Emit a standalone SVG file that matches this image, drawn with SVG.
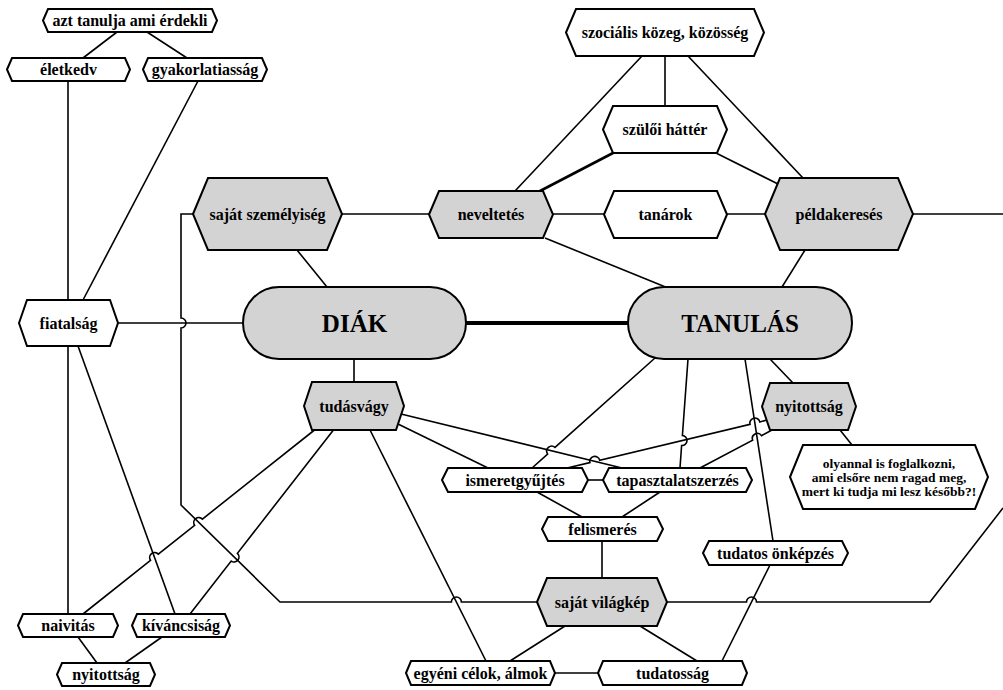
<svg xmlns="http://www.w3.org/2000/svg" width="1003" height="690" viewBox="0 0 1003 690">
<style>
.n{fill:#fff;stroke:#000;stroke-width:2;stroke-linejoin:miter}
.g{fill:#d3d3d3;stroke:#000;stroke-width:2}
.t{font-family:"Liberation Serif","Times New Roman",serif;font-weight:bold;font-size:16px;text-anchor:middle;fill:#000}
.big{font-size:25px}
.sm{font-size:13.5px}
#edges path,#edges line{fill:none;stroke:#000;stroke-width:1.6}
</style>
<rect width="1003" height="690" fill="#fff"/>
<g id="edges">
<line x1="117" y1="32" x2="83" y2="58"/>
<line x1="147" y1="32" x2="187" y2="58"/>
<line x1="68" y1="81" x2="68" y2="300"/>
<line x1="68" y1="346" x2="68" y2="614"/>
<line x1="198" y1="81" x2="83" y2="300"/>
<line x1="118" y1="323" x2="243" y2="323"/>
<path d="M193,214 L181,214 L181,318 A5,5 0 0 1 181,328 L181,505 L280,602 L451.4,602 A5,5 0 0 1 461.4,602 L537,602"/>
<path d="M667,602 L746.5,602 A5,5 0 0 1 756.5,602 L930,602 L1003,508"/>
<line x1="913" y1="214" x2="1003" y2="214"/>
<line x1="466" y1="323" x2="628" y2="323" style="stroke-width:4"/>
<line x1="354" y1="359" x2="354" y2="382"/>
<line x1="297" y1="250" x2="327" y2="287"/>
<line x1="342" y1="214" x2="429" y2="214"/>
<line x1="553" y1="214" x2="604" y2="214"/>
<line x1="727" y1="214" x2="765" y2="214"/>
<line x1="642" y1="56" x2="515" y2="191"/>
<line x1="665" y1="56" x2="665" y2="106"/>
<line x1="688" y1="56" x2="803" y2="178"/>
<line x1="613" y1="153" x2="540" y2="191" style="stroke-width:2.6"/>
<line x1="716" y1="153" x2="778" y2="184"/>
<line x1="545" y1="238" x2="668" y2="288"/>
<line x1="805" y1="250" x2="782" y2="287"/>
<path d="M317,428 L202.4,519.1 A5,5 0 0 0 194.6,525.3 L158.3,554.1 A5,5 0 0 0 150.5,560.3 L83,614"/>
<path d="M335,428 L237.4,553.3 A5,5 0 0 1 231.2,561.1 L190,614"/>
<line x1="78" y1="346" x2="175" y2="614"/>
<line x1="78" y1="637" x2="97" y2="663"/>
<line x1="162" y1="637" x2="125" y2="663"/>
<line x1="370" y1="430" x2="486" y2="661"/>
<line x1="401" y1="414" x2="622" y2="468"/>
<line x1="398" y1="424" x2="488" y2="468"/>
<path d="M655,358 L555,447.4 A5,5 0 0 0 547.6,454 L532,468"/>
<path d="M688,359 L682.4,435.5 A5,5 0 0 1 681.6,445.5 L680,468"/>
<path d="M567,468 L589.9,462.6 A5,5 0 0 1 599.7,460.2 L750,424.3 A5,5 0 0 1 759.8,421.9 L767,420"/>
<path d="M700,468 L752.7,440.2 A5,5 0 0 1 761.5,435.6 L772,430"/>
<line x1="745" y1="359" x2="773" y2="541"/>
<line x1="770" y1="359" x2="793" y2="383"/>
<line x1="840" y1="430" x2="852" y2="445"/>
<line x1="588" y1="480" x2="603" y2="480"/>
<line x1="537" y1="492" x2="582" y2="517"/>
<line x1="660" y1="492" x2="622" y2="517"/>
<line x1="602" y1="541" x2="602" y2="578"/>
<line x1="770" y1="565" x2="722" y2="661"/>
<line x1="565" y1="626" x2="510" y2="661"/>
<line x1="640" y1="626" x2="697" y2="661"/>
<line x1="555" y1="673" x2="598" y2="673"/>
</g>
<g id="azt"><polygon class="n" points="43,20.5 48,9 212,9 217,20.5 212,32 48,32"/><text class="t" x="130" y="26">azt tanulja ami érdekli</text></g>
<g id="eletkedv"><polygon class="n" points="7,69.5 12,58 125,58 130,69.5 125,81 12,81"/><text class="t" x="68.5" y="75">életkedv</text></g>
<g id="gyakorlatiassag"><polygon class="n" points="143,69.5 148,58 262,58 267,69.5 262,81 148,81"/><text class="t" x="205" y="75">gyakorlatiasság</text></g>
<g id="szocialis"><polygon class="n" points="566,32.5 576,9 754,9 764,32.5 754,56 576,56"/><text class="t" x="665" y="38">szociális közeg, közösség</text></g>
<g id="szuloi"><polygon class="n" points="603,129.5 613,106 717,106 727,129.5 717,153 613,153"/><text class="t" x="665" y="135">szülői háttér</text></g>
<g id="sajat-szemelyiseg"><polygon class="g" points="193,214 208,178 327,178 342,214 327,250 208,250"/><text class="t" x="267.5" y="219.5">saját személyiség</text></g>
<g id="neveltetes"><polygon class="g" points="429,214.5 439,191 543,191 553,214.5 543,238 439,238"/><text class="t" x="491" y="220">neveltetés</text></g>
<g id="tanarok"><polygon class="n" points="604,214.5 614,191 717,191 727,214.5 717,238 614,238"/><text class="t" x="665.5" y="220">tanárok</text></g>
<g id="peldakereses"><polygon class="g" points="765,214 780,178 898,178 913,214 898,250 780,250"/><text class="t" x="839" y="219.5">példakeresés</text></g>
<g id="fiatalsag"><polygon class="n" points="19,323 27,300 110,300 118,323 110,346 27,346"/><text class="t" x="68.5" y="328.5">fiatalság</text></g>
<g id="diak"><rect class="g" x="243" y="287" width="223" height="72" rx="36"/><text class="t big" x="354.5" y="332">DIÁK</text></g>
<g id="tanulas"><rect class="g" x="628" y="287" width="224" height="72" rx="36"/><text class="t big" x="740" y="332">TANULÁS</text></g>
<g id="tudasvagy"><polygon class="g" points="304,406 312,382 396,382 404,406 396,430 312,430"/><text class="t" x="354" y="411.5">tudásvágy</text></g>
<g id="nyitottsag-r"><polygon class="g" points="762,406.5 770,383 848,383 856,406.5 848,430 770,430"/><text class="t" x="809" y="412">nyitottság</text></g>
<g id="olyannal"><polygon class="n" points="790,477 803,445 975,445 988,477 975,509 803,509"/><text class="t sm" x="889" y="467.5">olyannal is foglalkozni,</text><text class="t sm" x="889" y="481.5">ami elsőre nem ragad meg,</text><text class="t sm" x="889" y="495.5">mert ki tudja mi lesz később?!</text></g>
<g id="ismeretgyujtes"><polygon class="n" points="442,480 448,468 582,468 588,480 582,492 448,492"/><text class="t" x="515" y="485.5">ismeretgyűjtés</text></g>
<g id="tapasztalatszerzes"><polygon class="n" points="603,480 609,468 746,468 752,480 746,492 609,492"/><text class="t" x="677.5" y="485.5">tapasztalatszerzés</text></g>
<g id="felismeres"><polygon class="n" points="542,529 548,517 657,517 663,529 657,541 548,541"/><text class="t" x="602.5" y="534.5">felismerés</text></g>
<g id="tudatos-onkepzes"><polygon class="n" points="703,553 709,541 842,541 848,553 842,565 709,565"/><text class="t" x="775.5" y="558.5">tudatos önképzés</text></g>
<g id="sajat-vilagkep"><polygon class="g" points="537,602 547,578 657,578 667,602 657,626 547,626"/><text class="t" x="602" y="607.5">saját világkép</text></g>
<g id="naivitas"><polygon class="n" points="18,625.5 23,614 113,614 118,625.5 113,637 23,637"/><text class="t" x="68" y="631">naivitás</text></g>
<g id="kivancsisag"><polygon class="n" points="132,625.5 137,614 225,614 230,625.5 225,637 137,637"/><text class="t" x="181" y="631">kíváncsiság</text></g>
<g id="nyitottsag-l"><polygon class="n" points="57,674.5 62,663 150,663 155,674.5 150,686 62,686"/><text class="t" x="106" y="680">nyitottság</text></g>
<g id="egyeni"><polygon class="n" points="406,673 411,661 550,661 555,673 550,685 411,685"/><text class="t" x="480.5" y="678.5">egyéni célok, álmok</text></g>
<g id="tudatossag"><polygon class="n" points="598,673 603,661 742,661 747,673 742,685 603,685"/><text class="t" x="672.5" y="678.5">tudatosság</text></g>
</svg>
